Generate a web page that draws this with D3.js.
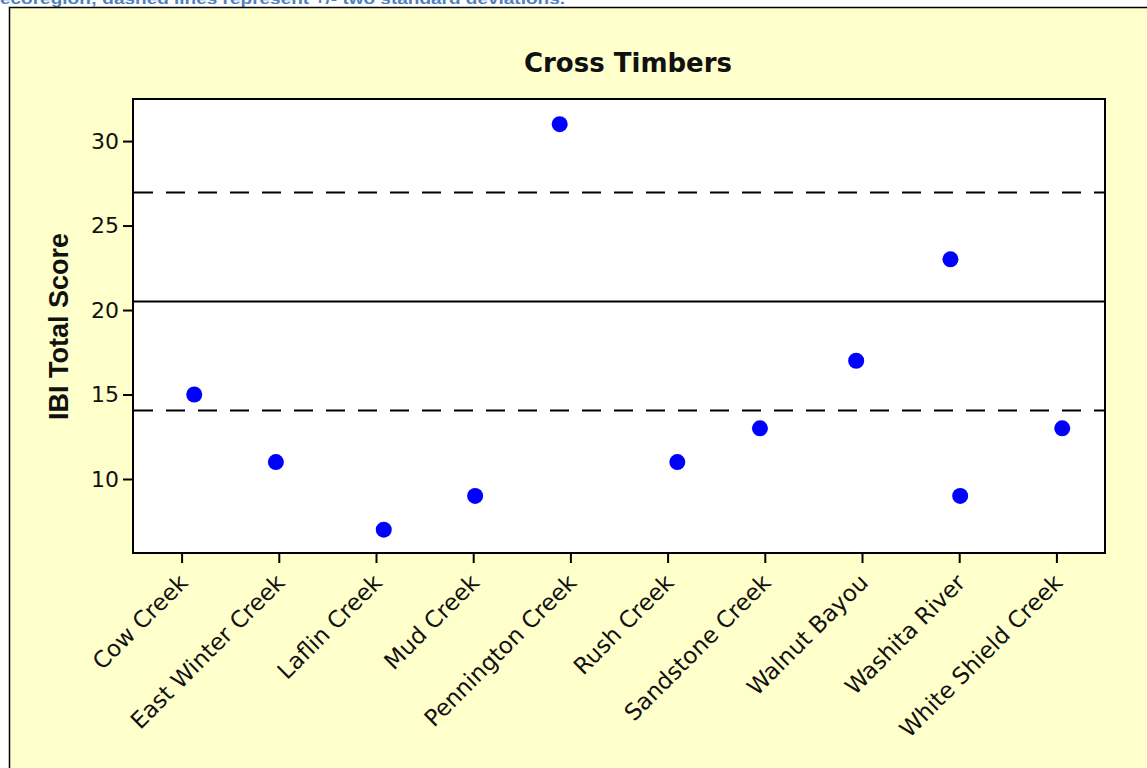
<!DOCTYPE html>
<html>
<head>
<meta charset="utf-8">
<script src="https://cdn.jsdelivr.net/npm/d3@7"></script>
<style>
  body { margin: 0; background: #fff; }
  svg { display: block; }
</style>
</head>
<body>
<div id="chart"></div>
<script>
// data
var sites = ["Cow Creek", "East Winter Creek", "Laflin Creek", "Mud Creek", "Pennington Creek",
             "Rush Creek", "Sandstone Creek", "Walnut Bayou", "Washita River", "White Shield Creek"];
// one entry per observation: site, score, jitter (in category steps)
var obsSite   = ["Cow Creek", "East Winter Creek", "Laflin Creek", "Mud Creek", "Pennington Creek",
                 "Rush Creek", "Sandstone Creek", "Walnut Bayou", "Washita River", "Washita River", "White Shield Creek"];
var obsScore  = [15, 11, 7, 9, 31, 11, 13, 17, 23, 9, 13];
var obsJitter = [0.13, -0.03, 0.08, 0.02, -0.11, 0.10, -0.05, -0.06, -0.09, 0.01, 0.06];
var refMean = 20.5;
var refLines = [26.95, 14.05];
var yTicks = [10, 15, 20, 25, 30];

var width = 1147, height = 768;
var plot = {left: 133, top: 99, right: 1105, bottom: 553};

var svg = d3.select("#chart").append("svg")
    .attr("width", width)
    .attr("height", height);

// caption text cut off at top of the page
svg.append("text")
    .attr("x", 0)
    .attr("y", 4)
    .attr("font-family", "Liberation Sans, sans-serif")
    .attr("font-weight", "bold")
    .attr("font-size", 15)
    .attr("fill", "#4f81bd")
    .attr("textLength", 565)
    .attr("lengthAdjust", "spacingAndGlyphs")
    .text("ecoregion; dashed lines represent +/- two standard deviations.");

// outer yellow panel
svg.append("rect")
    .attr("x", 9.5)
    .attr("y", 7.5)
    .attr("width", width + 20)
    .attr("height", height + 20)
    .attr("fill", "#ffffcc")
    .attr("stroke", "#000")
    .attr("stroke-width", 1.5);

var x = d3.scalePoint()
    .domain(sites)
    .range([plot.left, plot.right])
    .padding(0.5);

var y = d3.scaleLinear()
    .domain([5.62, 32.49])
    .range([plot.bottom, plot.top]);

// plot area
svg.append("rect")
    .attr("x", plot.left)
    .attr("y", plot.top)
    .attr("width", plot.right - plot.left)
    .attr("height", plot.bottom - plot.top)
    .attr("fill", "#fff");

// reference lines
svg.append("line")
    .attr("x1", plot.left).attr("x2", plot.right)
    .attr("y1", y(refMean)).attr("y2", y(refMean))
    .attr("stroke", "#000")
    .attr("stroke-width", 2);

svg.selectAll(".ref")
    .data(refLines)
    .enter().append("line")
    .attr("class", "ref")
    .attr("x1", plot.left + 1).attr("x2", plot.right)
    .attr("y1", function (d) { return y(d); })
    .attr("y2", function (d) { return y(d); })
    .attr("stroke", "#000")
    .attr("stroke-width", 2)
    .attr("stroke-dasharray", "19,13");

// points
var step = x.step();
svg.selectAll(".dot")
    .data(obsScore)
    .enter().append("circle")
    .attr("class", "dot")
    .attr("cx", function (d, i) { return x(obsSite[i]) + obsJitter[i] * step; })
    .attr("cy", function (d) { return y(d); })
    .attr("r", 8)
    .attr("fill", "#0000ff");

// frame
svg.append("rect")
    .attr("x", plot.left)
    .attr("y", plot.top)
    .attr("width", plot.right - plot.left)
    .attr("height", plot.bottom - plot.top)
    .attr("fill", "none")
    .attr("stroke", "#000")
    .attr("stroke-width", 2);

// y axis
var yAxis = svg.append("g")
    .attr("transform", "translate(" + plot.left + ",0)")
    .call(d3.axisLeft(y).tickValues(yTicks).tickSize(10).tickPadding(4));
yAxis.select(".domain").remove();
yAxis.selectAll(".tick line").attr("stroke-width", 2);
yAxis.selectAll(".tick text")
    .attr("font-family", "DejaVu Sans, sans-serif")
    .attr("font-size", 22)
    .attr("fill", "#111");

// x axis
var xAxis = svg.append("g")
    .attr("transform", "translate(0," + plot.bottom + ")")
    .call(d3.axisBottom(x).tickSize(10).tickPadding(0));
xAxis.select(".domain").remove();
xAxis.selectAll(".tick line").attr("stroke-width", 2);
xAxis.selectAll(".tick text")
    .attr("font-family", "DejaVu Sans, sans-serif")
    .attr("font-size", 23)
    .attr("fill", "#111")
    .attr("text-anchor", "end")
    .attr("dy", null)
    .attr("y", null)
    .attr("transform", "translate(7,31) rotate(-45)");

// title
svg.append("text")
    .attr("x", 628)
    .attr("y", 72)
    .attr("text-anchor", "middle")
    .attr("font-family", "DejaVu Sans, sans-serif")
    .attr("font-weight", "bold")
    .attr("font-size", 26)
    .attr("fill", "#111")
    .text("Cross Timbers");

// y label
svg.append("text")
    .attr("transform", "translate(68," + ((233 + 420) / 2) + ") rotate(-90)")
    .attr("text-anchor", "middle")
    .attr("font-family", "Liberation Sans, Arial, sans-serif")
    .attr("font-weight", "bold")
    .attr("font-size", 27)
    .attr("fill", "#111")
    .text("IBI Total Score");
</script>
</body>
</html>
